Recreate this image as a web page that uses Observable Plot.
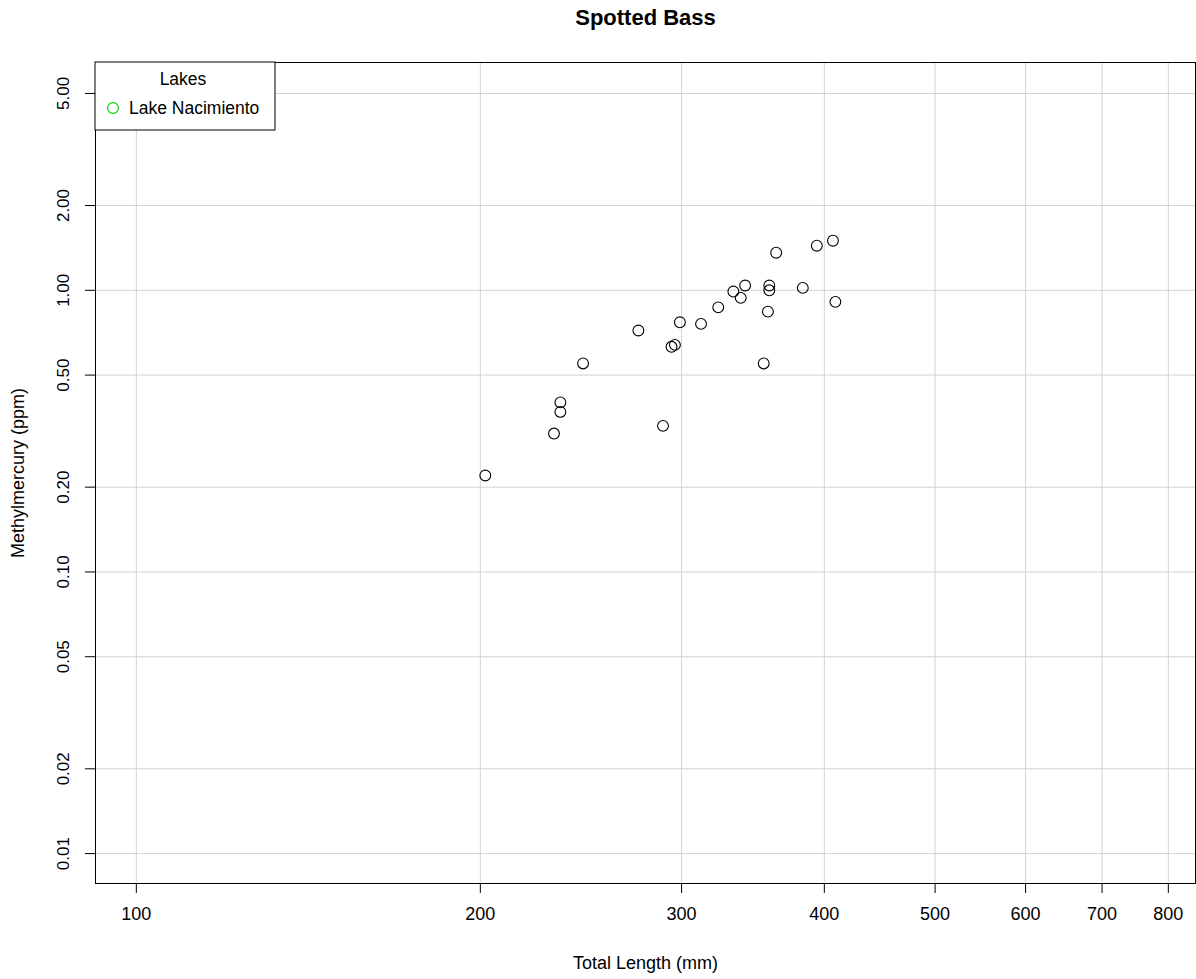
<!DOCTYPE html>
<html>
<head>
<meta charset="utf-8">
<script src="https://cdn.jsdelivr.net/npm/d3@7"></script>
<script src="https://cdn.jsdelivr.net/npm/@observablehq/plot@0.6"></script>
<style>
  html, body { margin: 0; padding: 0; background: #fff; }
  #chart { width: 1196px; height: 979px; }
  svg { font-family: "Liberation Sans", Arial, sans-serif; }
</style>
</head>
<body>
<div id="chart"></div>
<script>
const titleText = "Spotted Bass";
const xLabel = "Total Length (mm)";
const yLabel = "Methylmercury (ppm)";
const lakeName = "Lake Nacimiento";
const legendTitle = "Lakes";

// Total length (mm)
const lengths = [202, 232, 235, 235, 246, 275, 289, 294, 296, 299, 312, 323,
                 333, 338, 341, 354, 357, 358, 358, 363, 383, 394, 407, 409];
// Methylmercury (ppm)
const mercury = [0.22, 0.31, 0.40, 0.37, 0.55, 0.72, 0.33, 0.63, 0.64, 0.77, 0.76, 0.87,
                 0.99, 0.94, 1.04, 0.55, 0.84, 1.04, 1.00, 1.36, 1.02, 1.44, 1.50, 0.91];

const xTicks = [100, 200, 300, 400, 500, 600, 700, 800];
const yTicks = [0.01, 0.02, 0.05, 0.10, 0.20, 0.50, 1.00, 2.00, 5.00];

const data = lengths.map((d, i) => ({length: d, mercury: mercury[i]}));

const W = 1196, H = 979;
const mL = 95, mR = 1, mT = 62, mB = 96;

const font = `"Liberation Sans", Arial, sans-serif`;

const plot = Plot.plot({
  width: W,
  height: H,
  marginLeft: mL,
  marginRight: mR,
  marginTop: mT,
  marginBottom: mB,
  style: {fontFamily: font, fontSize: "17px", background: "#fff", color: "#000"},
  x: {type: "log", domain: [92.1, 845]},
  y: {type: "log", domain: [0.00783, 6.44]},
  marks: [
    Plot.gridX(xTicks, {stroke: "#d3d3d3", strokeOpacity: 1}),
    Plot.gridY(yTicks, {stroke: "#d3d3d3", strokeOpacity: 1}),
    Plot.axisX(xTicks, {tickSize: 10, tickPadding: 14, tickFormat: d => String(d), fontSize: 18, label: null, stroke: "#000"}),
    Plot.axisY(yTicks, {tickSize: 10, tickFormat: () => "", label: null, stroke: "#000"}),
    Plot.text(yTicks, {y: d => d, frameAnchor: "left", dx: -32, rotate: -90, text: d => d3.format(".2f")(d), fontSize: 17, textAnchor: "middle", lineAnchor: "middle", fill: "#000"}),
    Plot.frame({stroke: "#000", strokeWidth: 1}),
    Plot.dot(data, {x: "length", y: "mercury", r: 5.4, stroke: "#000", strokeWidth: 1.1, fill: "none"}),
    Plot.text([titleText], {frameAnchor: "top", dy: -45, text: d => d, fontSize: 22, fontWeight: "bold", lineAnchor: "middle", textAnchor: "middle", fill: "#000"}),
    Plot.text([xLabel], {frameAnchor: "bottom", dy: 80, text: d => d, fontSize: 18, lineAnchor: "middle", textAnchor: "middle", fill: "#000"}),
    Plot.text([yLabel], {frameAnchor: "left", dx: -77, rotate: -90, text: d => d, fontSize: 18, lineAnchor: "middle", textAnchor: "middle", fill: "#000"})
  ]
});

document.getElementById("chart").appendChild(plot);

// Legend box at top-left corner of the frame
const svg = d3.select(plot);
const g = svg.append("g").attr("transform", `translate(${mL},${mT})`);
g.append("rect").attr("x", 0).attr("y", 0).attr("width", 180).attr("height", 68)
  .attr("fill", "#fff").attr("stroke", "#000").attr("stroke-width", 1);
g.append("text").attr("x", 88).attr("y", 17).attr("text-anchor", "middle")
  .attr("dominant-baseline", "central").attr("font-size", 17.5).attr("fill", "#000")
  .attr("font-family", font).text(legendTitle);
g.append("circle").attr("cx", 18).attr("cy", 46).attr("r", 5.4)
  .attr("fill", "none").attr("stroke", "#00cd00").attr("stroke-width", 1.1);
g.append("text").attr("x", 34).attr("y", 46).attr("text-anchor", "start")
  .attr("dominant-baseline", "central")
  .attr("font-size", 17.5).attr("fill", "#000").attr("font-family", font).text(lakeName);
</script>
</body>
</html>
